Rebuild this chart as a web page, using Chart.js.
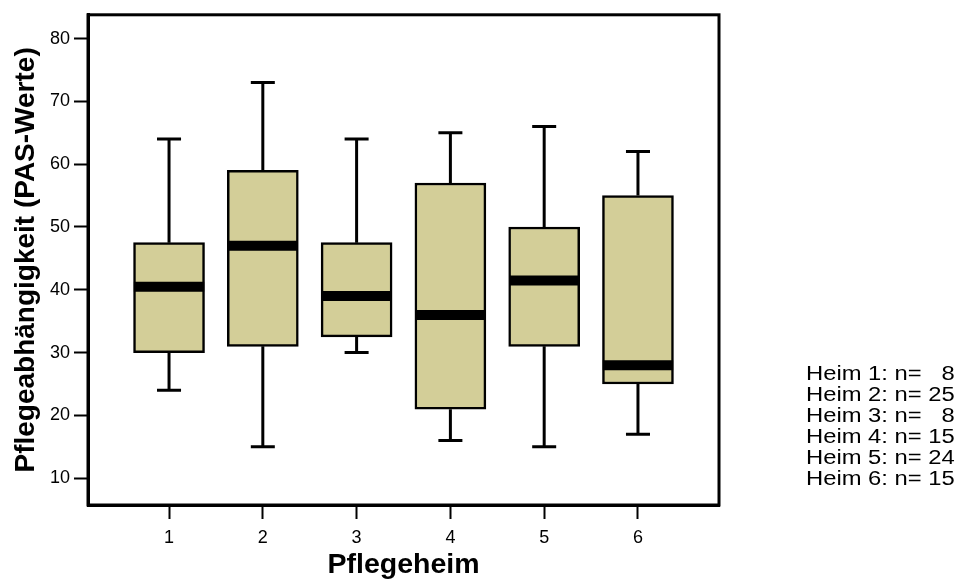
<!DOCTYPE html>
<html><head><meta charset="utf-8">
<script src="https://cdn.jsdelivr.net/npm/chart.js@4/dist/chart.umd.min.js"></script>
<style>
body{margin:0;background:#fff}
#wrap{position:relative;width:957px;height:582px}
#note{position:absolute;left:806px;top:362px;font:20.5px 'Liberation Sans',Arial,sans-serif;line-height:21px;white-space:pre;color:#000;transform:scaleX(1.16);transform-origin:0 0}
</style>
</head><body>
<div id="wrap"><canvas id="c" width="957" height="582"></canvas><div id="note"></div></div>
<script>
const categories = ['1','2','3','4','5','6'];
const whiskerMax = [64, 73, 64, 65, 66, 62];
const q3 = [47.5, 59, 47.5, 57, 50, 55];
const median = [40.5, 47, 39, 36, 41.5, 28];
const q1 = [30, 31, 32.5, 21, 31, 25];
const whiskerMin = [24, 15, 30, 16, 15, 17];
const counts = [8, 25, 8, 15, 24, 15];
const yTicks = [10, 20, 30, 40, 50, 60, 70, 80];

document.getElementById('note').textContent = categories.map((c, i) =>
  'Heim ' + c + ': n=' + (counts[i] < 10 ? '   ' : ' ') + counts[i]).join('\n');

const capHalf = 0.128;
const boxHalf = 0.375;

const whiskerData = [];
const capData = [];
const medianData = [];
categories.forEach((c, i) => {
  const x = i + 1;
  whiskerData.push({x, y: q3[i]}, {x, y: whiskerMax[i]}, {x, y: null},
                   {x, y: q1[i]}, {x, y: whiskerMin[i]}, {x, y: null});
  capData.push({x: x - capHalf, y: whiskerMax[i]}, {x: x + capHalf, y: whiskerMax[i]}, {x, y: null},
               {x: x - capHalf, y: whiskerMin[i]}, {x: x + capHalf, y: whiskerMin[i]}, {x, y: null});
  medianData.push({x: x - boxHalf, y: median[i]}, {x: x + boxHalf, y: median[i]}, {x, y: null});
});
const boxData = categories.map((c, i) => ({x: i + 1, y: [q1[i], q3[i]]}));

const framePlugin = {
  id: 'frame',
  afterDatasetsDraw(chart) {
    const {ctx, chartArea: a} = chart;
    ctx.save();
    ctx.strokeStyle = '#000';
    ctx.lineWidth = 3;
    ctx.strokeRect(a.left, a.top, a.right - a.left, a.bottom - a.top);
    ctx.restore();
  }
};

const lineBase = {type: 'line', pointRadius: 0, borderColor: '#000', fill: false, tension: 0,
  spanGaps: false, borderCapStyle: 'butt'};
const fam = "'Liberation Sans', Arial, sans-serif";

new Chart(document.getElementById('c'), {
  type: 'bar',
  data: {
    datasets: [
      Object.assign({}, lineBase, {data: medianData, borderWidth: 10, order: 0}),
      {type: 'bar', data: boxData, backgroundColor: '#d3ce98', borderColor: '#000', borderWidth: 2.5,
       borderSkipped: false, barThickness: 71, order: 1},
      Object.assign({}, lineBase, {data: whiskerData, borderWidth: 3, order: 2}),
      Object.assign({}, lineBase, {data: capData, borderWidth: 3, order: 2})
    ]
  },
  options: {
    responsive: false,
    animation: false,
    events: [],
    layout: {padding: {left: 0, top: 10, right: 238, bottom: 0}},
    plugins: {legend: {display: false}, tooltip: {enabled: false}},
    scales: {
      x: {
        type: 'linear', min: 0.136, max: 6.864, offset: false,
        afterBuildTicks: s => { s.ticks = categories.map((c, i) => ({value: i + 1})); },
        afterFit: s => { s.height = 77; },
        ticks: {callback: (v, i) => categories[i], color: '#000', padding: 8,
                font: {family: fam, size: 18}, maxRotation: 0},
        grid: {offset: false, drawOnChartArea: false, drawTicks: true, tickLength: 14, tickColor: '#000', tickWidth: 2},
        border: {display: true, color: '#000', width: 3},
        title: {display: true, text: 'Pflegeheim', color: '#000', padding: {top: 0, bottom: 0},
                font: {family: fam, size: 28.5, weight: 'bold'}}
      },
      y: {
        type: 'linear', min: 5.74, max: 83.78,
        afterBuildTicks: s => { s.ticks = yTicks.map(v => ({value: v})); },
        afterFit: s => { s.width = 88; },
        ticks: {color: '#000', padding: 4, font: {family: fam, size: 18}},
        grid: {drawOnChartArea: false, drawTicks: true, tickLength: 14, tickColor: '#000', tickWidth: 2},
        border: {display: true, color: '#000', width: 3},
        title: {display: true, text: 'Pflegeabhängigkeit (PAS-Werte)', color: '#000', padding: {top: 9, bottom: 0},
                font: {family: fam, size: 28, weight: 'bold'}}
      }
    }
  },
  plugins: [framePlugin]
});
</script>
</body></html>
